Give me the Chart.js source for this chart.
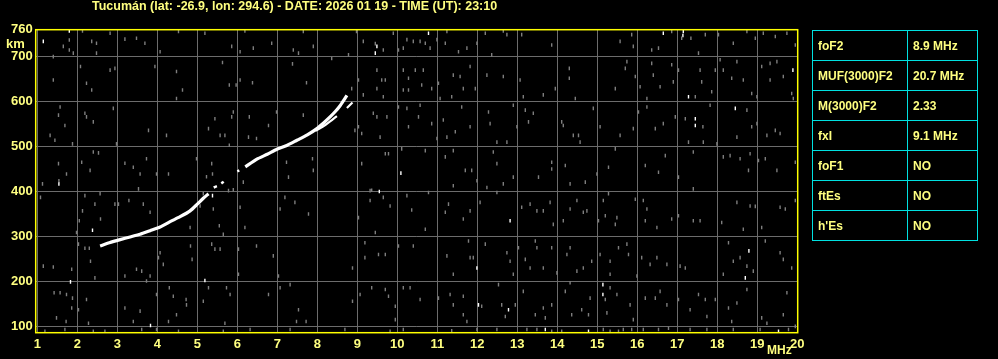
<!DOCTYPE html>
<html>
<head>
<meta charset="utf-8">
<script src="https://cdn.jsdelivr.net/npm/chart.js@4/dist/chart.umd.min.js"></script>
<style>
  html, body { margin: 0; padding: 0; background: #000; }
  #wrap { position: relative; width: 998px; height: 359px; overflow: hidden; font-family: "Liberation Sans", Arial, sans-serif; font-weight: bold; }
  #title { position: absolute; left: 92px; top: -1px; color: #ffff80; font-size: 12.5px; white-space: nowrap; }
  #km { position: absolute; left: 6px; top: 36px; color: #ffff80; font-size: 13px; }
  #mhz { position: absolute; left: 767px; top: 343px; color: #ffff80; font-size: 12px; }
  #params { position: absolute; left: 812px; top: 30px; border-collapse: collapse; }
  #params td { border: 1px solid #00e0e0; height: 29px; padding: 0 0 0 5px; color: #ffff80; font-size: 12px; }
  #params td.name { width: 89px; }
  #params td.val { width: 64px; }
</style>
</head>
<body>
<div id="wrap">
  <canvas id="ionogram"></canvas>
  <div id="title">Tucumán (lat: -26.9, lon: 294.6) - DATE: 2026 01 19 - TIME (UT): 23:10</div>
  <div id="km">km</div>
  <div id="mhz">MHz</div>
  <table id="params"></table>
</div>
<script>
// axes
const freqTicks = [1, 2, 3, 4, 5, 6, 7, 8, 9, 10, 11, 12, 13, 14, 15, 16, 17, 18, 19, 20]
const heightTicks = [100, 200, 300, 400, 500, 600, 700, 760]

// scaled parameters (table on the right)
const paramNames = ["foF2", "MUF(3000)F2", "M(3000)F2", "fxI", "foF1", "ftEs", "h'Es"]
const paramValues = ["8.9 MHz", "20.7 MHz", "2.33", "9.1 MHz", "NO", "NO", "NO"]

// echo trace [MHz, km]
const traceLow = [[2.57, 279], [2.8, 286], [3.07, 293], [3.32, 299], [3.57, 305], [3.82, 313], [4.07, 321], [4.32, 333], [4.57, 344], [4.82, 357], [5.0, 372], [5.15, 385], [5.28, 395]]
const traceDots1 = [[5.41, 409], [5.49, 412]]
const traceDots2 = [[5.6, 418], [5.66, 422]]
const traceDots3 = [[6.0, 445], [6.05, 447]]
const traceHigh = [[6.2, 455], [6.49, 472], [6.75, 483], [6.99, 494], [7.25, 503], [7.49, 514], [7.75, 526], [7.99, 540], [8.15, 552], [8.32, 566], [8.45, 578], [8.57, 591], [8.66, 603], [8.74, 614]]
const traceX = [[7.95, 535], [8.15, 545], [8.32, 556], [8.49, 568]]
const traceXTip = [[8.74, 586], [8.88, 598]]

// background noise [MHz, km]
const noiseGray = [
  [1.8,737],[1.8,715],[2.13,757],[2.36,734],[2.48,730],[2.82,752],[3.19,739],[3.48,741],[3.69,730],[4.07,711],[4.53,756],[5.19,752],[5.86,723],[6.07,711],[6.19,757],[6.4,719],[6.86,730],[7.4,715],[7.53,708],[7.65,756],[7.9,723],[8.78,704],[9.15,734],[8.98,756],[1.65,723],[2.48,708],[1.9,708],[1.4,700],
  [2.08,678],[2.23,641],[2.36,626],[2.82,670],[2.94,674],[3.94,678],[4.48,667],[4.63,626],[4.48,607],[5.63,687],[5.8,637],[6.07,648],[5.97,637],[6.38,642],[7.38,684],[7.73,642],[8.36,696],[9.03,648],[8.86,629],[1.4,648],
  [1.57,588],[1.53,570],[1.69,547],[1.32,525],[1.44,514],[1.88,506],[2.19,574],[2.23,566],[2.4,555],[2.9,585],[2.98,506],[3.78,536],[4.23,525],[5.28,540],[5.44,562],[5.57,525],[5.69,525],[5.8,503],[5.9,577],[5.86,566],[6.3,566],[6.28,521],[6.48,518],[6.78,547],[6.98,577],[7.65,570],[8.94,536],[9.03,544],[9.11,529],[9.15,615],[9.4,574],
  [1.13,417],[1.53,462],[1.54,424],[1.73,439],[2.11,465],[2.32,447],[2.4,488],[2.53,486],[3.19,463],[3.4,454],[3.57,439],[3.73,473],[3.98,439],[4.28,439],[4.98,473],[5.36,462],[5.38,439],[5.23,433],[5.78,402],[5.9,404],[6.15,421],[7.23,465],[7.28,432],[7.88,473],[7.9,447],[9.11,462],[9.32,402],
  [1.08,387],[2.13,357],[2.19,391],[2.44,372],[2.57,395],[2.58,339],[2.94,372],[3.03,372],[3.29,380],[3.53,406],[3.65,372],[3.82,354],[4.82,320],[5.07,368],[5.15,395],[5.4,361],[5.55,324],[5.65,305],[6.07,365],[6.19,320],[7.07,361],[7.19,387],[7.44,376],[7.78,350],[9.03,342],[9.32,380],[2.05,335],[1.98,309],
  [2.03,283],[2.19,274],[2.3,274],[2.33,245],[1.86,227],[1.15,234],[1.4,232],[3.48,227],[3.61,223],[3.82,212],[4.07,264],[4.03,253],[4.15,238],[4.83,279],[4.87,249],[5.36,283],[5.44,272],[5.57,272],[6.03,272],[6.48,279],[6.03,216],[6.9,257],[7.03,212],[8.88,230],[9.19,253],[9.19,286],[2.44,208],[3.19,212],[3.73,201],
  [1.42,175],[1.57,175],[1.73,171],[1.88,163],[1.86,141],[2.03,137],[1.48,119],[1.72,111],[2.28,107],[2.23,160],[3.19,141],[3.4,111],[3.57,134],[3.98,171],[4.3,186],[4.4,167],[4.72,160],[4.73,148],[4.28,111],[4.48,126],[5.15,156],[5.28,186],[5.73,186],[5.82,171],[5.69,107],[6.78,171],[7.07,186],[7.32,193],[7.53,137],[7.48,111],[7.72,111],[8.88,156],[9.07,171],
  [1.19,89],[1.69,93],[2.4,89],[2.69,89],[3.61,93],[3.98,93],[4.53,89],[5.65,89],[6.32,93],[7.32,93],[8.69,93],
  [9.45,729],[9.65,715],[9.9,752],[10.03,715],[10.15,719],[10.24,738],[10.4,734],[10.57,734],[10.7,730],[10.82,719],[10.99,738],[11.2,730],[11.24,756],[11.53,711],[11.74,719],[11.99,730],[12.2,752],[12.36,704],[12.65,757],[12.74,749],[13.11,749],[13.86,726],[15.57,734],[15.86,749],[15.9,723],[16.36,715],[16.53,719],[16.86,756],[17.11,741],[17.34,741],[17.53,708],[17.7,749],[18.03,749],[18.4,730],[18.74,756],[18.95,741],[19.15,752],[19.45,745],[19.74,752],[19.95,726],
  [9.49,670],[9.61,648],[9.7,648],[9.49,629],[9.65,611],[10.15,670],[10.28,652],[10.45,670],[10.65,670],[10.15,626],[10.28,626],[10.61,637],[10.86,629],[11.03,641],[11.07,607],[11.36,611],[11.4,659],[11.57,656],[11.65,629],[11.82,678],[11.95,629],[12.24,659],[12.65,656],[13.07,648],[13.15,611],[13.65,615],[13.95,629],[14.3,674],[14.3,652],[14.45,607],[15.45,629],[15.74,689],[15.7,674],[15.95,656],[16.07,633],[16.24,607],[16.36,685],[16.4,659],[16.57,633],[16.86,682],[16.9,644],[17.03,670],[17.45,611],[17.57,670],[17.61,644],[17.95,670],[18.07,693],[18.15,670],[18.36,652],[18.49,689],[18.65,648],[18.86,618],[18.99,611],[19.11,678],[19.32,685],[19.32,648],[19.49,689],[19.65,656],[19.86,618],[17.86,622],
  [9.49,566],[9.57,521],[9.74,566],[10.03,588],[10.24,585],[10.28,544],[10.53,566],[10.57,592],[10.86,551],[10.99,518],[11.15,559],[11.24,521],[11.45,533],[11.61,588],[11.82,544],[12.28,577],[12.32,551],[12.49,510],[12.74,510],[12.9,592],[12.99,544],[13.2,581],[13.28,555],[13.4,574],[14.11,555],[14.15,547],[14.4,525],[14.53,525],[14.57,510],[14.9,585],[15.07,544],[15.57,525],[15.9,540],[16.03,577],[16.24,588],[16.45,540],[16.65,551],[16.95,566],[17.2,562],[17.64,544],[17.82,592],[17.99,506],[18.49,521],[18.74,581],[18.86,544],[18.99,551],[19.24,525],[19.45,536],[19.57,529],[19.9,607],[17.65,510],[17.28,510],
  [9.7,484],[9.78,484],[10.11,495],[10.7,491],[11.2,477],[11.4,491],[11.7,447],[11.86,447],[11.99,424],[12.4,488],[12.49,462],[12.65,417],[12.9,432],[13.53,432],[13.86,465],[13.86,450],[14.2,458],[14.32,417],[14.7,421],[14.99,439],[15.28,454],[15.45,495],[16.2,458],[16.53,443],[16.7,480],[17.03,432],[17.4,488],[18.15,477],[18.32,480],[18.57,473],[18.82,484],[18.78,447],[19.03,469],[19.2,473],[19.49,447],[19.95,465],[17.4,406],[9.36,403],[10.78,398],[11.4,413],[12.24,409],
  [9.45,309],[9.65,387],[9.82,368],[10.24,391],[10.36,359],[10.7,316],[11.2,354],[11.28,372],[11.65,339],[11.82,357],[12.07,376],[12.49,398],[13.11,365],[13.32,372],[13.49,357],[13.65,357],[13.82,376],[13.9,327],[14.15,335],[14.32,361],[14.49,380],[14.65,354],[14.74,357],[15.15,380],[15.2,346],[15.28,395],[15.49,342],[15.45,327],[15.95,383],[16.15,380],[16.24,361],[16.2,335],[16.49,320],[16.86,339],[17.03,346],[17.4,335],[17.57,335],[18.11,331],[18.49,376],[18.65,316],[18.82,368],[18.95,367],[19.11,320],[19.57,365],[19.7,361],[19.95,380],[15.03,335],
  [9.53,260],[9.7,260],[10.03,279],[10.4,279],[11.24,257],[11.4,216],[11.78,290],[11.82,253],[11.9,253],[12.2,283],[12.74,264],[12.82,245],[12.9,216],[13.03,275],[13.2,249],[13.32,230],[13.45,290],[13.49,275],[13.65,230],[13.86,275],[13.99,219],[14.24,260],[14.32,275],[14.49,223],[14.65,230],[14.86,245],[15.07,260],[15.32,245],[15.32,216],[15.53,275],[15.74,283],[15.78,260],[15.99,212],[16.11,253],[16.32,238],[16.49,253],[16.74,238],[17.07,234],[17.2,230],[18.15,216],[18.28,286],[18.4,245],[18.57,253],[18.74,234],[18.9,223],[19.2,290],[19.57,264],[19.65,249],[19.86,230],
  [9.36,186],[9.7,182],[9.78,167],[9.95,145],[9.95,115],[10.15,186],[10.32,186],[10.57,160],[11.03,163],[11.32,171],[11.4,148],[11.65,167],[11.65,126],[11.74,111],[12.11,145],[12.53,193],[12.61,148],[12.7,122],[12.95,148],[13.15,178],[13.45,126],[13.65,141],[13.7,119],[13.86,148],[14.2,178],[14.32,197],[14.36,126],[14.61,137],[14.78,126],[14.82,163],[15.2,160],[15.24,130],[15.32,186],[15.49,171],[15.82,148],[15.9,115],[16.2,163],[16.45,163],[16.57,178],[16.74,148],[17.03,160],[17.32,137],[17.53,171],[17.7,160],[17.74,122],[17.95,160],[18.28,141],[18.36,111],[18.49,152],[18.74,182],[19.11,119],[19.24,107],[19.65,126],[19.74,175],
  [9.82,89],[10.15,93],[11.36,90],[11.99,93],[12.49,93],[13.24,93],[13.49,93],[13.86,89],[14.11,89],[15.15,93],[15.32,89],[15.53,89],[15.65,93],[15.86,93],[16.15,93],[16.53,93],[16.78,96],[17.32,93],[17.74,93],[18.4,93],[19.07,93],[19.78,93],[19.95,100]
]
const noiseWhite = [
  [1.15,734],[1.8,757],[1.54,417],[2.38,314],[5.38,391],[1.83,199],[5.19,202],[3.83,102],
  [9.49,723],[9.45,708],[10.78,752],[16.65,752],[17.15,756],[17.14,747],[17.28,611],[19.89,670],
  [17.45,562],[17.45,547],[18.45,585],[10.09,441],[9.55,400],[12.82,335],[11.99,230],[18.79,268],
  [18.7,208],[12.03,148],[12.78,137],[15.14,193],[15.14,171],[13.7,93],[14.78,89],[19.53,89]
]

const toXY = (arr) => arr.map((p) => ({ x: p[0], y: p[1] }))

// params table
const table = document.getElementById("params")
paramNames.forEach((name, i) => {
  const tr = document.createElement("tr")
  tr.innerHTML = '<td class="name">' + name + '</td><td class="val">' + paramValues[i] + "</td>"
  table.appendChild(tr)
})

const noiseStyle = (color) => ({
  pointStyle: "line",
  rotation: 90,
  pointRadius: 1.8,
  borderWidth: 1.4,
  borderColor: color,
  backgroundColor: color,
})

const traceStyle = (width) => ({
  showLine: true,
  borderColor: "#ffffff",
  borderWidth: width,
  pointRadius: 0,
  tension: 0.2,
})

const frame = {
  id: "frame",
  afterDraw(chart) {
    const { ctx, chartArea: a } = chart
    ctx.save()
    ctx.strokeStyle = "#ffff00"
    ctx.lineWidth = 1.5
    ctx.strokeRect(a.left, a.top, a.right - a.left, a.bottom - a.top)
    ctx.restore()
  },
}

const tickFont = { family: "Liberation Sans", size: 13, weight: "bold" }

new Chart(document.getElementById("ionogram"), {
  type: "scatter",
  data: {
    datasets: [
      { data: toXY(noiseGray), ...noiseStyle("#7e7e7e") },
      { data: toXY(noiseWhite), ...noiseStyle("#ffffff") },
      { data: toXY(traceLow), ...traceStyle(3.2) },
      { data: toXY(traceDots1), ...traceStyle(2.5) },
      { data: toXY(traceDots2), ...traceStyle(2.5) },
      { data: toXY(traceDots3), ...traceStyle(2.5) },
      { data: toXY(traceHigh), ...traceStyle(3.2) },
      { data: toXY(traceX), ...traceStyle(2.2) },
      { data: toXY(traceXTip), ...traceStyle(2.2) },
    ],
  },
  options: {
    responsive: true,
    maintainAspectRatio: false,
    animation: false,
    events: [],
    layout: { padding: { left: 0, right: 200.3, top: 29.7, bottom: 0 } },
    plugins: { legend: { display: false }, tooltip: { enabled: false } },
    scales: {
      x: {
        type: "linear",
        min: 0.96,
        max: 20.01,
        afterBuildTicks: (s) => { s.ticks = freqTicks.map((v) => ({ value: v })) },
        afterFit: (s) => { s.height = 26.3 },
        grid: { color: "#6c6c6c", lineWidth: 1, drawTicks: false },
        border: { display: false },
        ticks: { color: "#ffff80", font: tickFont, padding: 4, maxRotation: 0, autoSkip: false },
      },
      y: {
        type: "linear",
        min: 86,
        max: 760,
        afterBuildTicks: (s) => { s.ticks = heightTicks.map((v) => ({ value: v })) },
        afterFit: (s) => { s.width = 35.7 },
        grid: {
          color: (c) => (c.tick && c.tick.value === 760 ? "rgba(0,0,0,0)" : "#6c6c6c"),
          lineWidth: 1,
          drawTicks: false,
        },
        border: { display: false },
        ticks: { color: "#ffff80", font: tickFont, padding: 3, autoSkip: false },
      },
    },
  },
  plugins: [frame],
})
</script>
</body>
</html>
